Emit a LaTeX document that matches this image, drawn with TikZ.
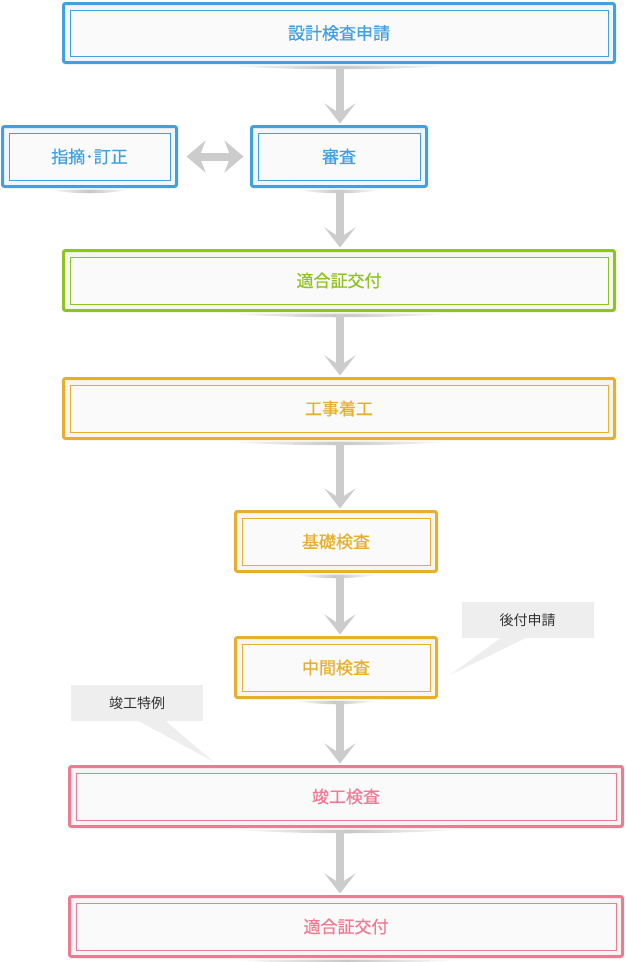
\documentclass[tikz,border=0pt]{standalone}
\usepackage{fontspec}
\newfontfamily\jp{Noto Sans CJK JP}
\newfontfamily\jpb[FakeBold=0.7]{Noto Sans CJK JP}
\usetikzlibrary{arrows.meta}
\definecolor{cblue}{HTML}{3FA0E2}
\definecolor{cgreen}{HTML}{8FC31F}
\definecolor{corange}{HTML}{E7AF2B}
\definecolor{cpink}{HTML}{F17A93}
\definecolor{boxgap}{HTML}{F5F5F5}
\definecolor{boxin}{HTML}{FAFAFA}
\definecolor{arrowgray}{HTML}{CCCCCC}
\definecolor{calloutfill}{HTML}{EEEEEE}
\definecolor{callouttext}{HTML}{333333}
\tikzset{
  flowbox/.style={draw=#1, line width=3pt, fill=boxgap, rounded corners=2pt,
    inner sep=0pt, text=#1, font=\jpb\fontsize{17}{17}\selectfont,
    path picture={\filldraw[sharp corners, draw=#1, fill=boxin, line width=1pt]
      ([xshift=6.5pt,yshift=-6.5pt]path picture bounding box.north west) rectangle
      ([xshift=-6.5pt,yshift=6.5pt]path picture bounding box.south east);}},
  flowarrow/.style={draw=arrowgray, line width=7.5pt,
    -{Stealth[length=20pt,width=31pt,inset=10pt]}},
  dblarrow/.style={draw=arrowgray, line width=8pt,
    {Stealth[length=19pt,width=32pt,inset=6pt]}-{Stealth[length=19pt,width=32pt,inset=6pt]}},
  callout/.style={fill=calloutfill, inner sep=0pt, minimum width=132pt, minimum height=36pt,
    text=callouttext, font=\jp\fontsize{14}{14}\selectfont},
}
\newcommand{\boxshadow}[2]{%
  \shade[left color=white, right color=white, middle color=black!22]
    ([xshift=-#2pt,yshift=-1.5pt]#1.south) .. controls ([xshift=-0.4*#2pt,yshift=-6.5pt]#1.south)
    and ([xshift=0.4*#2pt,yshift=-6.5pt]#1.south) .. ([xshift=#2pt,yshift=-1.5pt]#1.south) -- cycle;}
\begin{document}
\begin{tikzpicture}[x=1pt,y=-1pt]
\useasboundingbox (0,0) rectangle (626,962);
\coordinate (ax) at (340,0);
% boxes
\node[flowbox=cblue, minimum width=551pt, minimum height=59pt] (B1) at (339,33) {設計検査申請};
\node[flowbox=cblue, minimum width=174pt, minimum height=60pt] (B2) at (89.5,156.5) {指摘･訂正};
\node[flowbox=cblue, minimum width=175pt, minimum height=60pt] (B3) at (339,156.5) {審査};
\node[flowbox=cgreen, minimum width=551pt, minimum height=60pt] (B4) at (339,280.5) {適合証交付};
\node[flowbox=corange, minimum width=551pt, minimum height=60pt] (B5) at (339,408.5) {工事着工};
\node[flowbox=corange, minimum width=201pt, minimum height=60pt] (B6) at (336,541.5) {基礎検査};
\node[flowbox=corange, minimum width=201pt, minimum height=60pt] (B7) at (336,667.5) {中間検査};
\node[flowbox=cpink, minimum width=553pt, minimum height=60pt] (B8) at (346,796.5) {竣工検査};
\node[flowbox=cpink, minimum width=553pt, minimum height=60pt] (B9) at (346,926.5) {適合証交付};
% shadows
\boxshadow{B1}{118}
\boxshadow{B2}{42}
\boxshadow{B3}{44}
\boxshadow{B4}{118}
\boxshadow{B5}{118}
\boxshadow{B6}{42}
\boxshadow{B7}{42}
\boxshadow{B8}{118}
\boxshadow{B9}{118}
% arrows
\draw[flowarrow] ([yshift=-1.5pt]B1.south -| ax) -- ([yshift=1.5pt]B3.north -| ax);
\draw[flowarrow] ([yshift=-1.5pt]B3.south -| ax) -- ([yshift=1.5pt]B4.north -| ax);
\draw[flowarrow] ([yshift=-1.5pt]B4.south -| ax) -- ([yshift=1.5pt]B5.north -| ax);
\draw[flowarrow] ([yshift=-1.5pt]B5.south -| ax) -- ([yshift=1.5pt]B6.north -| ax);
\draw[flowarrow] ([yshift=-1.5pt]B6.south -| ax) -- ([yshift=1.5pt]B7.north -| ax);
\draw[flowarrow] ([yshift=-1.5pt]B7.south -| ax) -- ([yshift=1.5pt]B8.north -| ax);
\draw[flowarrow] ([yshift=-1.5pt]B8.south -| ax) -- ([yshift=1.5pt]B9.north -| ax);
\draw[dblarrow] ([xshift=8.5pt]B2.east) -- ([xshift=-6.5pt]B3.west);
% callouts
\node[callout] (C1) at (527.5,620) {後付申請};
\coordinate (T1) at (450,675);
\fill[calloutfill] ([xshift=39pt]C1.south west) -- ([xshift=64pt]C1.south west) -- (T1) -- cycle;
\node[callout] (C2) at (137,703) {竣工特例};
\coordinate (T2) at (214,762);
\fill[calloutfill] ([xshift=68pt]C2.south west) -- ([xshift=95pt]C2.south west) -- (T2) -- cycle;
\end{tikzpicture}
\end{document}
